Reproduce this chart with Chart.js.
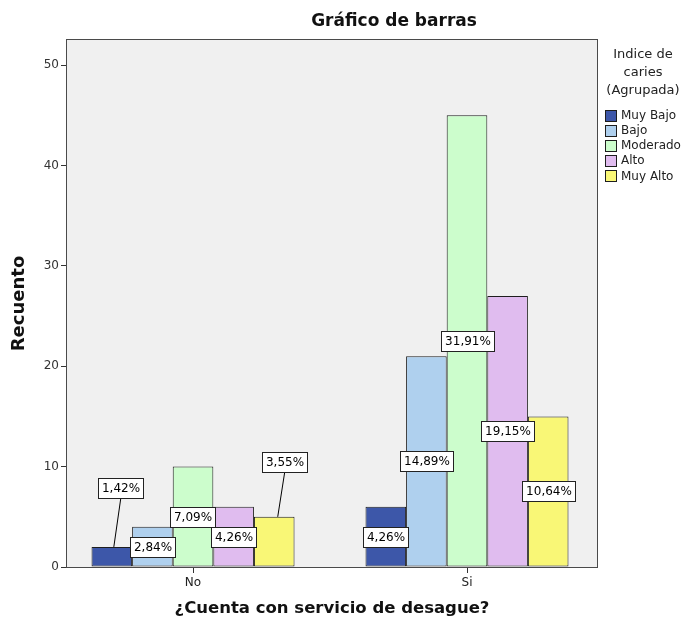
<!DOCTYPE html>
<html>
<head>
<meta charset="utf-8">
<script src="https://cdn.jsdelivr.net/npm/chart.js@4/dist/chart.umd.min.js"></script>
<style>
  html, body { margin: 0; padding: 0; background: #fff; }
  canvas { display: block; }
</style>
</head>
<body>
<canvas id="c" width="684" height="622"></canvas>
<script>
// ---- data ----
const categories = ['No', 'Si'];
const seriesNames = ['Muy Bajo', 'Bajo', 'Moderado', 'Alto', 'Muy Alto'];
const muyBajo  = [2, 6];
const bajo     = [4, 21];
const moderado = [10, 45];
const alto     = [6, 27];
const muyAlto  = [5, 15];
const yTicks = [0, 10, 20, 30, 40, 50];
const chartTitle = 'Gráfico de barras';
const xTitle = '¿Cuenta con servicio de desague?';
const yTitle = 'Recuento';
const legendTitle = ['Indice de', 'caries', '(Agrupada)'];

// ---- styling ----
const seriesValues = [muyBajo, bajo, moderado, alto, muyAlto];
const colors = ['#3d57a9', '#afd0ee', '#ccfdcc', '#e0bcef', '#f9f776'];
const FONT = 'DejaVu Sans';
const total = seriesValues.flat().reduce((a, b) => a + b, 0);
const X_MIN = -0.46, X_MAX = 1.4745, Y_MAX = 52.5;

// labels for small bars are placed above with a leader line
const calloutPlacement = {
  '0-0': { dx: 9, value: 7.87, lineDx: 2 },
  '4-0': { dx: 10.5, value: 10.46, lineDx: 3.5 }
};

const datasets = seriesNames.map((name, i) => ({
  label: name,
  data: categories.map((c, j) => ({ x: j, y: seriesValues[i][j] })),
  backgroundColor: colors[i],
  borderColor: '#1e1e1e',
  borderWidth: 1,
  borderSkipped: false,
  categoryPercentage: 0.741,
  barPercentage: 1
}));

const framePlugin = {
  id: 'frame',
  beforeDraw(chart) {
    const { ctx, chartArea: a } = chart;
    ctx.save();
    ctx.fillStyle = '#ffffff';
    ctx.fillRect(0, 0, chart.width, chart.height);
    ctx.fillStyle = '#f0f0f0';
    ctx.fillRect(a.left, a.top, a.right - a.left, a.bottom - a.top);
    ctx.restore();
  },
  afterDatasetsDraw(chart) {
    const { ctx, chartArea: a } = chart;
    ctx.save();
    ctx.strokeStyle = '#4a4a4a';
    ctx.lineWidth = 1;
    ctx.strokeRect(Math.round(a.left) - 0.5, Math.round(a.top) - 0.5,
      Math.round(a.right - a.left) + 1, Math.round(a.bottom - a.top) + 1);
    ctx.restore();
  }
};

const pctPlugin = {
  id: 'pct',
  afterDatasetsDraw(chart) {
    const ctx = chart.ctx;
    const yScale = chart.scales.y;
    ctx.save();
    ctx.font = '12px "' + FONT + '"';
    ctx.textAlign = 'center';
    ctx.textBaseline = 'middle';
    chart.data.datasets.forEach((ds, i) => {
      const meta = chart.getDatasetMeta(i);
      meta.data.forEach((bar, j) => {
        const v = seriesValues[i][j];
        const txt = (v / total * 100).toFixed(2).replace('.', ',') + '%';
        const w = ctx.measureText(txt).width + 7;
        const h = 20;
        let cx = bar.x, cy = (bar.y + bar.base) / 2;
        const p = calloutPlacement[i + '-' + j];
        if (p) {
          cx = bar.x + p.dx;
          cy = yScale.getPixelForValue(p.value);
          ctx.strokeStyle = '#000';
          ctx.lineWidth = 1;
          ctx.beginPath();
          ctx.moveTo(cx, cy + h / 2);
          ctx.lineTo(bar.x + p.lineDx, bar.y);
          ctx.stroke();
        }
        const x0 = Math.round(cx - w / 2) + 0.5;
        const y0 = Math.round(cy - h / 2) + 0.5;
        ctx.fillStyle = '#ffffff';
        ctx.fillRect(x0, y0, Math.round(w), h);
        ctx.strokeStyle = '#222';
        ctx.lineWidth = 1;
        ctx.strokeRect(x0, y0, Math.round(w), h);
        ctx.fillStyle = '#000';
        ctx.fillText(txt, x0 + Math.round(w) / 2, y0 + h / 2 + 0.5);
      });
    });
    ctx.restore();
  }
};

const textPlugin = {
  id: 'texts',
  afterDraw(chart) {
    const ctx = chart.ctx;
    ctx.save();
    // main title
    ctx.fillStyle = '#111';
    ctx.font = 'bold 17px "' + FONT + '"';
    ctx.textAlign = 'center';
    ctx.textBaseline = 'middle';
    ctx.fillText(chartTitle, 394, 22);
    // legend
    const lx = chart.chartArea.right;
    ctx.font = '13px "' + FONT + '"';
    ctx.fillStyle = '#222';
    legendTitle.forEach((t, k) => ctx.fillText(t, lx + 46, 55 + k * 18));
    ctx.font = '12px "' + FONT + '"';
    ctx.textAlign = 'left';
    chart.data.datasets.forEach((ds, i) => {
      const cy = 115.5 + i * 15.1;
      ctx.fillStyle = ds.backgroundColor;
      ctx.fillRect(lx + 8, Math.round(cy - 6), 12, 12);
      ctx.strokeStyle = '#1e1e1e';
      ctx.lineWidth = 1;
      ctx.strokeRect(lx + 8.5, Math.round(cy - 6) + 0.5, 11, 11);
      ctx.fillStyle = '#222';
      ctx.fillText(ds.label, lx + 24, cy + 0.5);
    });
    ctx.restore();
  }
};

new Chart(document.getElementById('c'), {
  type: 'bar',
  data: { datasets },
  options: {
    responsive: false,
    animation: false,
    layout: { padding: { top: 40, right: 87, left: 0, bottom: 0 } },
    plugins: { legend: { display: false }, tooltip: { enabled: false }, title: { display: false } },
    scales: {
      x: {
        type: 'linear',
        min: X_MIN,
        max: X_MAX,
        offset: false,
        afterDataLimits: s => { s.min = X_MIN; s.max = X_MAX; },
        afterBuildTicks: s => { s.ticks = categories.map((c, j) => ({ value: j })); },
        afterFit: s => { s.height = 55; },
        border: { display: false },
        grid: { drawOnChartArea: false, drawTicks: true, tickLength: 6, offset: false, color: '#333' },
        ticks: {
          callback: v => categories[v],
          font: { family: FONT, size: 12 },
          color: '#222',
          padding: 3,
          maxRotation: 0
        },
        title: {
          display: true,
          text: xTitle,
          font: { family: FONT, size: 16.5, weight: 'bold' },
          color: '#111',
          padding: { top: 0, bottom: 3 }
        }
      },
      y: {
        type: 'linear',
        min: 0,
        max: Y_MAX,
        afterDataLimits: s => { s.min = 0; s.max = Y_MAX; },
        afterBuildTicks: s => { s.ticks = yTicks.map(v => ({ value: v })); },
        afterFit: s => { s.width = 67; },
        border: { display: false },
        grid: { drawOnChartArea: false, drawTicks: true, tickLength: 6, color: '#333' },
        ticks: {
          font: { family: FONT, size: 12 },
          color: '#333',
          padding: 2
        },
        title: {
          display: true,
          text: yTitle,
          font: { family: FONT, size: 18, weight: 'bold' },
          color: '#111',
          padding: { top: 9, bottom: 0 }
        }
      }
    }
  },
  plugins: [framePlugin, pctPlugin, textPlugin]
});
</script>
</body>
</html>
